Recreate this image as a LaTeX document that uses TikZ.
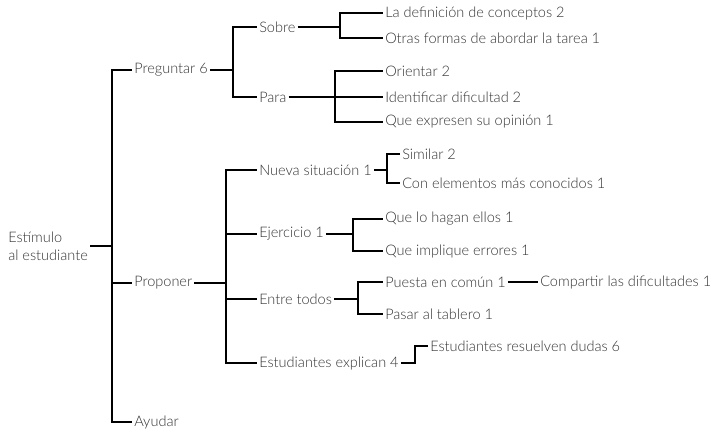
\documentclass[tikz,border=0pt]{standalone}
\usepackage{fontspec}
\setmainfont{Lato Light}
\usepackage{tikz}
\usetikzlibrary{positioning,calc}
\definecolor{ink}{HTML}{333333}
\tikzset{
  lbl/.style={anchor=west,inner sep=1.5pt,text=ink,
    font=\fontsize{10.9}{13.5}\selectfont},
  ln/.style={draw=black,line width=0.9pt},
}
\begin{document}
\begin{tikzpicture}[x=0.75pt,y=-0.75pt]
  \useasboundingbox (0,0) rectangle (714,434);
  % level 0 and 1
  \node[lbl,align=left] (est) at (6,246) {Estímulo\\al estudiante};
  \node[lbl] (preg) at (132,70) {Preguntar 6};
  \node[lbl] (prop) at (132,283) {Proponer};
  \node[lbl] (ayud) at (132,422) {Ayudar};
  % under Preguntar
  \node[lbl] (sobre) at (257,27) {Sobre};
  \node[lbl] (para) at (257,97) {Para};
  \node[lbl] (ladef) at (383,13) {La definición de conceptos 2};
  \node[lbl] (otras) at (383,38) {Otras formas de abordar la tarea 1};
  \node[lbl] (orient) at (383,71) {Orientar 2};
  \node[lbl] (ident) at (383,97) {Identificar dificultad 2};
  \node[lbl] (qexp) at (383,122) {Que expresen su opinión 1};
  % under Proponer
  \node[lbl] (nueva) at (257,170) {Nueva situación 1};
  \node[lbl] (ejer) at (257,234) {Ejercicio 1};
  \node[lbl] (entre) at (257,299) {Entre todos};
  \node[lbl] (estexp) at (257,363) {Estudiantes explican 4};
  \node[lbl] (simil) at (400,154) {Similar 2};
  \node[lbl] (conel) at (400,183) {Con elementos más conocidos 1};
  \node[lbl] (qlh) at (383,219) {Que lo hagan ellos 1};
  \node[lbl] (qie) at (383,251) {Que implique errores 1};
  \node[lbl] (puesta) at (383,282) {Puesta en común 1};
  \node[lbl] (pasar) at (383,314) {Pasar al tablero 1};
  \node[lbl] (compart) at (538,282) {Compartir las dificultades 1};
  \node[lbl] (estres) at (428,346) {Estudiantes resuelven dudas 6};
  % bracket columns
  \coordinate (bmain) at (112,0);
  \coordinate (bpreg) at (233,0);
  \coordinate (bsobre) at (340,0);
  \coordinate (bpara) at (335,0);
  \coordinate (bprop) at (226,0);
  \coordinate (bnueva) at (387,0);
  \coordinate (bejer) at (353,0);
  \coordinate (bentre) at (358,0);
  \coordinate (bestexp) at (415,0);
  % connectors
  \draw[ln] (est.east) -- (bmain |- est.east);
  \foreach \c in {preg,prop,ayud}
    \draw[ln] (bmain |- est.east) |- (\c.west);
  \draw[ln] (preg.east) -- (bpreg |- preg.east);
  \foreach \c in {sobre,para}
    \draw[ln] (bpreg |- preg.east) |- (\c.west);
  \draw[ln] (sobre.east) -- (bsobre |- sobre.east);
  \foreach \c in {ladef,otras}
    \draw[ln] (bsobre |- sobre.east) |- (\c.west);
  \draw[ln] (para.east) -- (bpara |- para.east);
  \foreach \c in {orient,ident,qexp}
    \draw[ln] (bpara |- para.east) |- (\c.west);
  \draw[ln] (prop.east) -- (bprop |- prop.east);
  \foreach \c in {nueva,ejer,entre,estexp}
    \draw[ln] (bprop |- prop.east) |- (\c.west);
  \draw[ln] (nueva.east) -- (bnueva |- nueva.east);
  \foreach \c in {simil,conel}
    \draw[ln] (bnueva |- nueva.east) |- (\c.west);
  \draw[ln] (ejer.east) -- (bejer |- ejer.east);
  \foreach \c in {qlh,qie}
    \draw[ln] (bejer |- ejer.east) |- (\c.west);
  \draw[ln] (entre.east) -- (bentre |- entre.east);
  \foreach \c in {puesta,pasar}
    \draw[ln] (bentre |- entre.east) |- (\c.west);
  \draw[ln] (puesta.east) -- (compart.west);
  \draw[ln] (estexp.east) -- (bestexp |- estexp.east) |- (estres.west);
\end{tikzpicture}
\end{document}
